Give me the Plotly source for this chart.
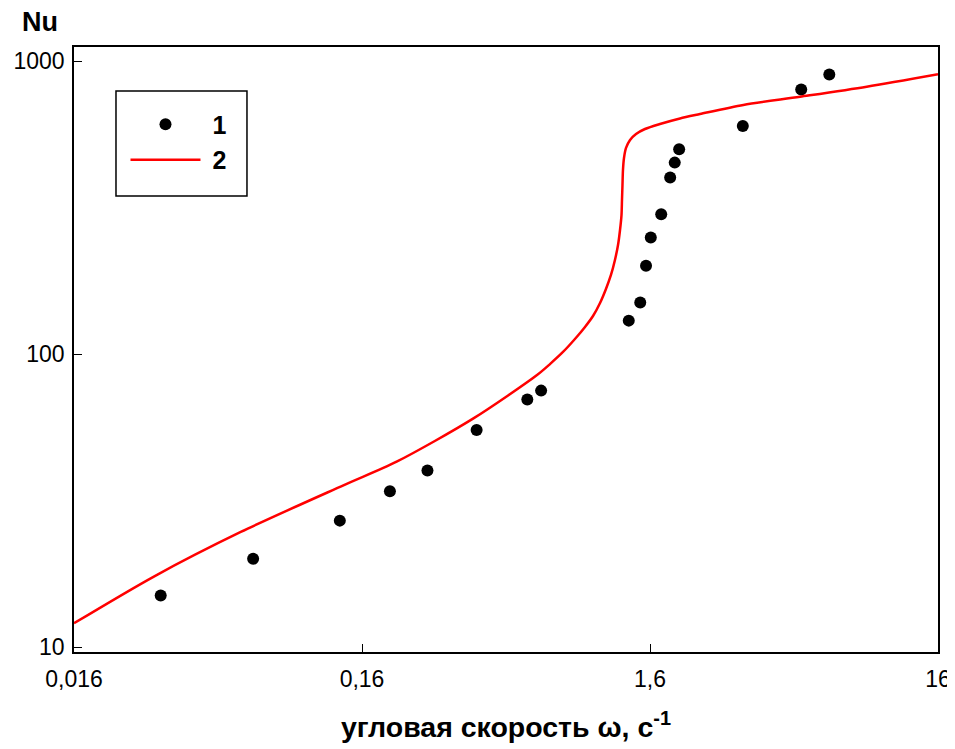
import plotly.graph_objects as go
import math

# experimental points (series 1)
omega_exp = [0.032, 0.067, 0.134, 0.20, 0.27, 0.40, 0.60, 0.67, 1.35, 1.48, 1.55, 1.61,
             1.75, 1.88, 1.95, 2.02, 3.36, 5.36, 6.71]
nu_exp = [15, 20, 27, 34, 40, 55, 70, 75, 130, 150, 200, 250, 300, 400, 450, 500, 600, 800, 900]

# calculated curve (series 2)
omega_calc = [0.016, 0.0303, 0.0607, 0.1385, 0.211, 0.390,
              0.6484, 0.719, 0.798, 0.878, 0.9515, 1.0144, 1.073, 1.125, 1.171, 1.209,
              1.239, 1.259, 1.274, 1.279, 1.284, 1.289, 1.2996, 1.321, 1.364, 1.431,
              1.537, 1.733, 2.034, 2.386, 3.375, 5.31, 9.05, 16.0]
nu_calc = [12.05, 17.4, 24.7, 35.7, 42.9, 60.3,
           84.8, 92.4, 101.6, 112.5, 123.7, 134.8, 149.3, 166.7, 186.1, 209.4,
           235.5, 265, 298, 335.5, 377.5, 424.6, 466.7, 505, 537.6, 563.5,
           586, 609.5, 636.6, 659, 708, 755, 817, 901]

x_tickvals = [0.016, 0.16, 1.6, 16]
x_ticktext = ["0,016", "0,16", "1,6", "16"]
y_tickvals = [10, 100, 1000]
y_ticktext = ["10", "100", "1000"]

FONT = "Liberation Sans, Arial, sans-serif"

fig = go.Figure()
fig.add_trace(go.Scatter(x=omega_exp, y=nu_exp, mode="markers", name="\u00a0<b>1</b>",
                         marker=dict(color="black", size=12)))
fig.add_trace(go.Scatter(x=omega_calc, y=nu_calc, mode="lines", name="\u00a0<b>2</b>",
                         line=dict(color="red", width=2.5, shape="spline", smoothing=0.8)))

axis_common = dict(showgrid=False, zeroline=False, showline=True, linecolor="black",
                   linewidth=1.5, mirror=True, ticks="inside", ticklen=8, tickwidth=1,
                   tickcolor="black", automargin=False,
                   tickfont=dict(family=FONT, size=23, color="black"))

fig.update_xaxes(type="log", range=[math.log10(0.016), math.log10(16)],
                 tickvals=x_tickvals, ticktext=x_ticktext, ticklabelstandoff=6,
                 title=dict(text="<b>угловая скорость ω, с<sup>-1</sup></b>",
                            font=dict(family=FONT, size=28.5, color="black"), standoff=26),
                 **axis_common)
fig.update_yaxes(type="log", range=[0.983, 3.0478],
                 tickvals=y_tickvals, ticktext=y_ticktext, ticklabelstandoff=3,
                 **axis_common)

fig.add_annotation(text="<b>Nu</b>", xref="paper", yref="paper", x=-0.039, y=1.041,
                   showarrow=False, font=dict(family=FONT, size=27, color="black"),
                   xanchor="center", yanchor="middle")

# legend frame
fig.add_shape(type="rect", xref="paper", yref="paper", x0=0.0486, x1=0.2002,
              y0=0.7537, y1=0.9273, line=dict(color="black", width=1.5),
              fillcolor="rgba(0,0,0,0)", layer="above")

fig.update_layout(template="none", width=947, height=741,
                  margin=dict(l=66, r=17, t=39, b=97, autoexpand=False),
                  plot_bgcolor="white", paper_bgcolor="white",
                  legend=dict(x=0.0596, y=0.910, xanchor="left", yanchor="top",
                              borderwidth=0, bgcolor="rgba(0,0,0,0)",
                              font=dict(family=FONT, size=25, color="black"),
                              itemwidth=70))

fig.write_html("out.html")
